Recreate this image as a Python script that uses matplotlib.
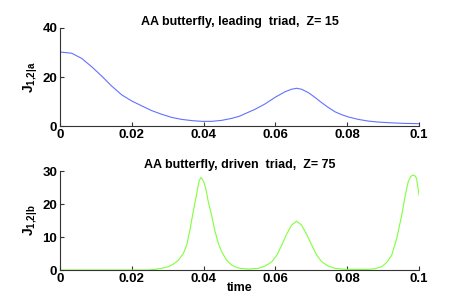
import matplotlib
matplotlib.use('Agg')
import matplotlib.pyplot as plt

plt.rcParams['font.family'] = ['Liberation Sans', 'DejaVu Sans']
plt.rcParams['font.weight'] = 'bold'
plt.rcParams['mathtext.fontset'] = 'custom'
plt.rcParams['mathtext.rm'] = 'Liberation Sans:bold'
plt.rcParams['mathtext.bf'] = 'Liberation Sans:bold'
plt.rcParams['mathtext.it'] = 'Liberation Sans:bold'

# leading triad
t_a = [0.0, 0.00325, 0.00603, 0.00882, 0.0116, 0.0144, 0.0172, 0.0200, 0.0228,
       0.0255, 0.0283, 0.0311, 0.0339, 0.0367, 0.0395, 0.0423, 0.0450, 0.0478,
       0.0500, 0.0515, 0.0543, 0.0571, 0.0599, 0.0627, 0.0645, 0.0659, 0.0673,
       0.0692, 0.0710, 0.0729, 0.0747, 0.0766, 0.0785, 0.0803, 0.0831, 0.0859,
       0.0887, 0.0915, 0.0952, 0.1]
j_a = [30.2, 29.7, 27.6, 24.2, 20.4, 16.3, 12.7, 10.2, 8.2,
       6.3, 4.8, 3.5, 2.7, 2.2, 1.9, 1.9, 2.3, 3.1,
       4.0, 5.0, 6.8, 9.0, 11.7, 14.0, 15.0, 15.4, 15.0,
       13.6, 11.7, 9.5, 7.6, 5.8, 4.6, 3.7, 2.7, 2.0,
       1.6, 1.35, 1.1, 0.95]

# driven triad
t_b = [0.0, 0.01, 0.02, 0.0246, 0.0265, 0.0283, 0.0302, 0.0316, 0.0330,
       0.0344, 0.0353, 0.0362, 0.0371, 0.0381, 0.0387, 0.0392, 0.0396, 0.0401,
       0.0407, 0.0413, 0.0423, 0.0432, 0.0441, 0.0450, 0.0464, 0.0478, 0.0492,
       0.0501, 0.0525, 0.0552, 0.0571, 0.0590, 0.0604, 0.0618, 0.0631, 0.0645,
       0.0659, 0.0673, 0.0687, 0.0701, 0.0715, 0.0729, 0.0747, 0.0766, 0.0794,
       0.0859, 0.0877, 0.0896, 0.0910, 0.0924, 0.0938, 0.0952, 0.0961, 0.0970,
       0.0977, 0.0982, 0.0989, 0.0993, 0.1]
j_b = [0.0, 0.0, 0.0, 0.0, 0.2, 0.5, 1.0, 1.8, 3.0,
       5.1, 7.6, 12.1, 17.7, 23.2, 26.8, 28.0, 27.6, 26.6,
       24.2, 20.7, 16.2, 11.6, 8.1, 5.6, 3.0, 1.5, 0.8,
       0.5, 0.3, 0.5, 1.2, 2.5, 4.5, 7.6, 10.8, 13.6,
       14.8, 13.6, 10.8, 7.6, 4.5, 2.5, 1.2, 0.5, 0.2,
       0.2, 0.4, 1.0, 2.3, 4.5, 9.6, 16.7, 22.2, 26.8,
       28.3, 28.8, 28.5, 27.8, 22.7]

xticks = [0, 0.02, 0.04, 0.06, 0.08, 0.1]
xticklabels = ['0', '0.02', '0.04', '0.06', '0.08', '0.1']

fig = plt.figure(figsize=(4.63, 3.04), dpi=100)
ax1 = fig.add_axes([0.1296, 0.5855, 0.7754, 0.3224])
ax2 = fig.add_axes([0.1296, 0.1118, 0.7754, 0.3257])

ax1.plot(t_a, j_a, color='#6272ff', lw=0.8)
ax2.plot(t_b, j_b, color='#80ff3c', lw=0.8)

for ax, ylim, yt in [(ax1, 40, [0, 20, 40]), (ax2, 30, [0, 10, 20, 30])]:
    ax.set_xlim(0, 0.1)
    ax.set_ylim(0, ylim)
    ax.set_xticks(xticks)
    ax.set_xticklabels(xticklabels)
    ax.set_yticks(yt)
    ax.spines['top'].set_visible(False)
    ax.spines['right'].set_visible(False)
    for s in ['left', 'bottom']:
        ax.spines[s].set_color('#333333')
        ax.spines[s].set_linewidth(0.8)
    ax.tick_params(direction='in', length=3, width=0.8, color='#333333',
                   labelsize=9.5, pad=2)
    for lab in ax.get_xticklabels() + ax.get_yticklabels():
        lab.set_fontweight('bold')

ax1.set_title('AA butterfly, leading  triad,  Z= 15', fontsize=9,
              fontweight='bold', pad=2)
ax2.set_title('AA butterfly, driven  triad,  Z= 75', fontsize=9,
              fontweight='bold', pad=1)
ax1.set_ylabel(r'$\mathbf{J_{1{,}2|a}}$', fontsize=10, labelpad=2)
ax2.set_ylabel(r'$\mathbf{J_{1{,}2|b}}$', fontsize=10, labelpad=2)
ax2.set_xlabel('time', fontsize=9, fontweight='bold', labelpad=-2)

fig.savefig('out.png', dpi=100)
